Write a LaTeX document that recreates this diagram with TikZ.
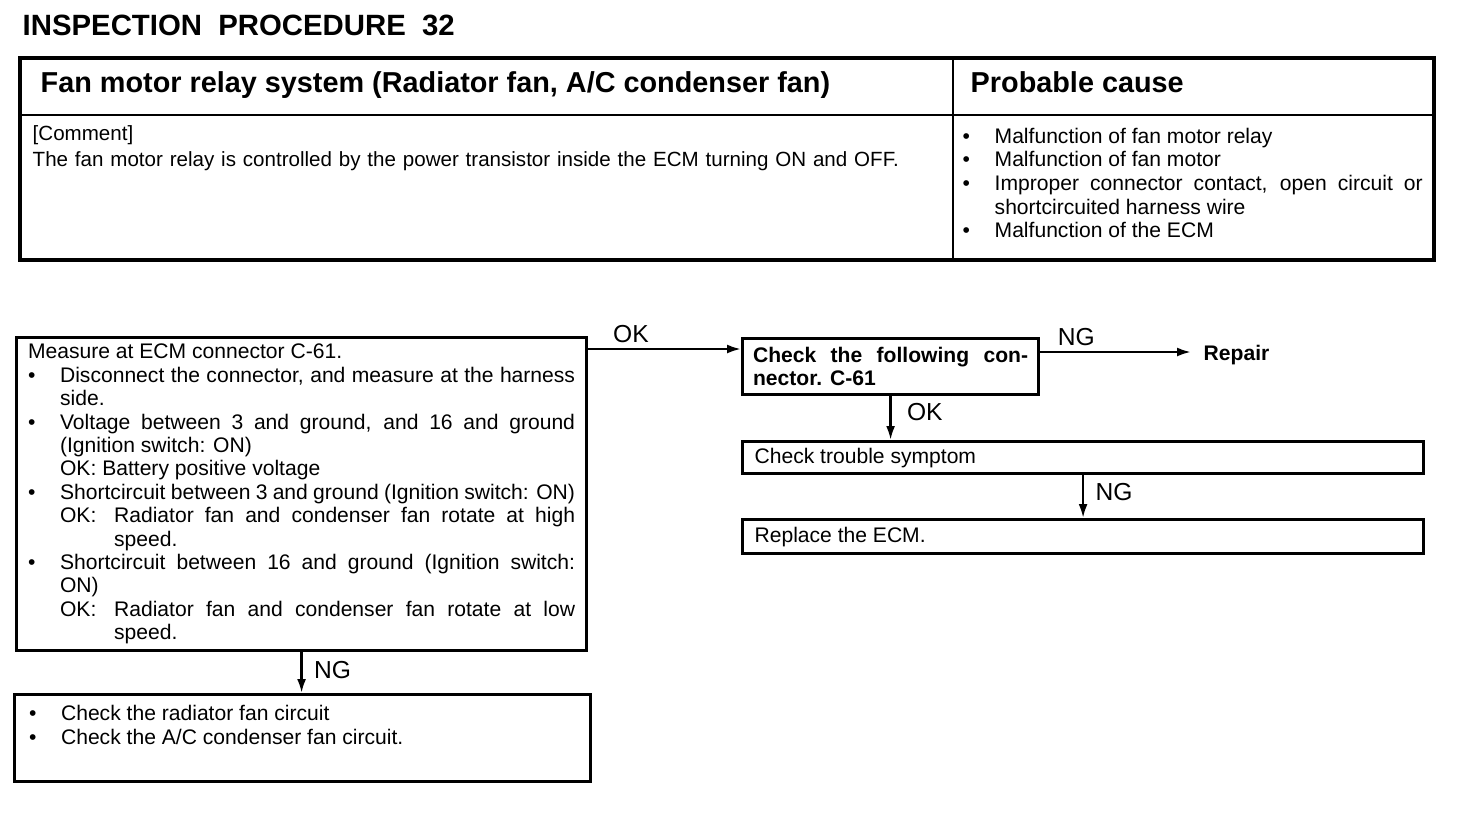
\documentclass[tikz,border=0pt]{standalone}
\usepackage{fontspec}
\setmainfont{Liberation Sans}
\usetikzlibrary{positioning, arrows.meta}
\definecolor{ink}{HTML}{000000}
\hyphenpenalty=10000

% bullet line and "OK:" line with hanging indent
\newcommand{\bitem}[1]{{\leftskip=0.32cm\noindent\llap{\makebox[0.32cm][l]{\textbullet}}#1\par}}
\newcommand{\okline}[1]{{\leftskip=0.86cm\noindent\llap{\makebox[0.54cm][l]{OK:}}#1\par}}

\begin{document}
\begin{tikzpicture}[
    >={Latex[length=1.4mm, width=0.9mm]},
    font=\fontsize{6}{6.66}\selectfont,
    box/.style={draw=ink, line width=0.9pt, anchor=north west, inner ysep=0pt, align=justify},
    flow/.style={draw=ink, line width=0.7pt, ->},
    tag/.style={font=\fontsize{7}{8}\selectfont, inner sep=1.5pt},
    cell/.style={anchor=base west, inner sep=0pt, align=justify},
  ]
  \useasboundingbox (0,0) rectangle (14.72,-8.22);

  % ----- title and table -----
  \node[anchor=base west, inner sep=0pt, font=\fontsize{8.35}{10}\selectfont\bfseries] (title) at (0.22,-0.35)
    {INSPECTION\ \ PROCEDURE\ \ 32};
  \draw[ink, line width=0.9pt] (0.20,-0.58) rectangle (14.34,-2.60);
  \draw[ink, line width=0.8pt] (0.20,-1.15) -- (14.34,-1.15);
  \draw[ink, line width=0.8pt] (9.53,-0.58) -- (9.53,-2.60);
  \node[anchor=base west, inner sep=0pt, font=\fontsize{8.2}{10}\selectfont\bfseries] (system) at (0.40,-0.92)
    {Fan motor relay system (Radiator fan, A/C condenser fan)};
  \node[anchor=base west, inner sep=0pt, font=\fontsize{8.2}{10}\selectfont\bfseries] (causehead) at (9.70,-0.92)
    {Probable cause};
  \node[cell, align=left, text width=9.0cm, font=\fontsize{5.85}{7.6}\selectfont] (comment) at (0.32,-1.40)
    {[Comment]\\The fan motor relay is controlled by the power transistor inside the ECM turning ON and OFF.};
  \node[cell, text width=4.60cm, font=\fontsize{6}{6.75}\selectfont] (causes) at (9.62,-1.43) {%
    \bitem{Malfunction of fan motor relay}
    \bitem{Malfunction of fan motor}
    \bitem{Improper connector contact, open circuit or shortcircuited harness wire}
    \bitem{Malfunction of the ECM}};

  % ----- flow boxes -----
  \node[box, text width=5.47cm, inner xsep=0.115cm, minimum height=3.13cm] (measure) at (0.15,-3.36) {%
    Measure at ECM connector C-61.\par
    \bitem{Disconnect the connector, and measure at the harness side.}
    \bitem{Voltage between 3 and ground, and 16 and ground\linebreak (Ignition switch: ON)}
    {\leftskip=0.32cm\noindent OK: Battery positive voltage\par}
    \bitem{Shortcircuit between 3 and ground (Ignition switch: ON)}
    \okline{Radiator fan and condenser fan rotate at high speed.}
    \bitem{Shortcircuit between 16 and ground (Ignition switch:\linebreak ON)}
    \okline{Radiator fan and condenser fan rotate at low speed.}};
  \node[box, text width=2.75cm, inner xsep=0.105cm, minimum height=0.56cm, font=\fontsize{6}{6.66}\selectfont\bfseries]
    (connector) at (7.41,-3.37) {Check the following con-\linebreak nector. C-61};
  \node[anchor=west, inner xsep=0.12cm, font=\fontsize{6}{7}\selectfont\bfseries] (repair) at (11.91,-3.55) {Repair};
  \node[box, text width=6.57cm, inner xsep=0.12cm, minimum height=0.32cm] (symptom) at (7.41,-4.40)
    {Check trouble symptom};
  \node[box, text width=6.57cm, inner xsep=0.12cm, minimum height=0.34cm] (ecm) at (7.41,-5.18)
    {Replace the ECM.};
  \node[box, text width=5.47cm, inner xsep=0.145cm, inner ysep=0.11cm, text depth=0.5cm] (fancircuit) at (0.13,-6.93) {%
    \bitem{Check the radiator fan circuit}
    \bitem{Check the A/C condenser fan circuit.}};

  % ----- wiring -----
  \coordinate (okA) at ([yshift=-0.13cm]measure.north east);
  \coordinate (ngB) at ([yshift=-0.15cm]connector.north east);
  \draw[flow] (okA) -- (okA -| connector.west) node[pos=0.28, above, tag] {OK};
  \draw[flow] (ngB) -- (ngB -| repair.west) node[pos=0.24, above, tag] {NG};
  \draw[flow] (connector.south) -- (connector.south |- symptom.north)
    node[pos=0.36, right, tag, xshift=0.1cm] {OK};
  \draw[flow] (symptom.south) -- (symptom.south |- ecm.north)
    node[pos=0.4, right, tag, xshift=0.06cm] {NG};
  \draw[flow] (measure.south) -- (measure.south |- fancircuit.north)
    node[pos=0.43, right, tag, xshift=0.06cm] {NG};

\end{tikzpicture}
\end{document}
